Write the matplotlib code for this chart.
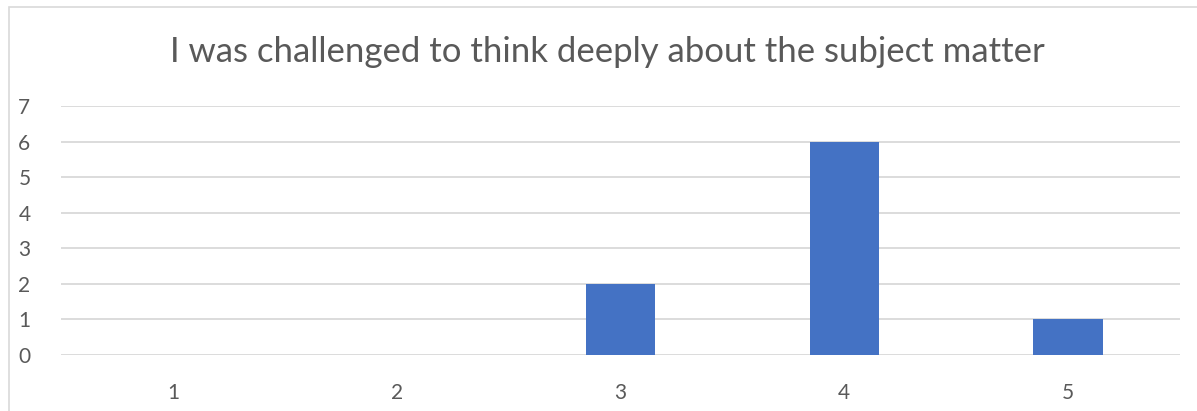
import matplotlib.pyplot as plt
from matplotlib.patches import Rectangle

# survey answers (1..5) and how many people gave each
categories = [1, 2, 3, 4, 5]
counts = [0, 0, 2, 6, 1]
title = "I was challenged to think deeply about the subject matter"

W, H = 1197, 411
barcol = '#4472C4'
gridcol = '#D9D9D9'
txtcol = '#595959'
plt.rcParams['font.family'] = ['Lato', 'DejaVu Sans']

fig = plt.figure(figsize=(W / 100, H / 100), dpi=100)

# light chart border, only left and top edges show
fig.patches.append(Rectangle((9 / W, -0.1), 1.2, (H - 7) / H + 0.1, transform=fig.transFigure,
                             fill=False, edgecolor=gridcol, lw=1.2))

ax = fig.add_axes([61 / W, 56 / H, (1180 - 61) / W, 249 / H])
ax.bar(categories, counts, width=0.31, color=barcol, zorder=3)
ax.set_xlim(0.5, 5.5)
ax.set_ylim(0, 7)
ax.set_yticks(range(0, 8))
ax.set_xticks(categories)
ax.grid(axis='y', color=gridcol, lw=1.3, zorder=0)
for s in ax.spines.values():
    s.set_visible(False)
ax.tick_params(length=0, labelsize=15, labelcolor=txtcol)
ax.tick_params(axis='y', pad=22)
ax.tick_params(axis='x', pad=20)

fig.text(607 / W, 1 - 52 / H, title, ha='center', va='center', fontsize=25, color=txtcol)

fig.savefig('out.png', dpi=100)
